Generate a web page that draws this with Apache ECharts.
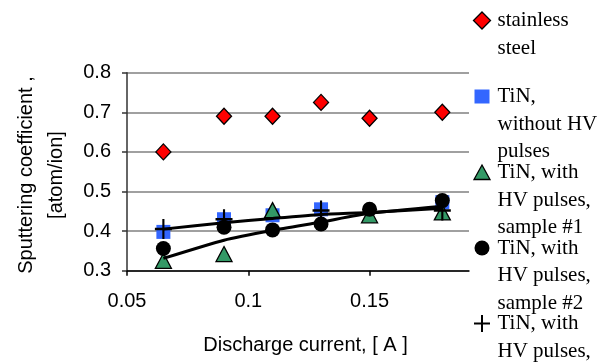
<!DOCTYPE html>
<html>
<head>
<meta charset="utf-8">
<script src="https://cdn.jsdelivr.net/npm/echarts@6/dist/echarts.min.js"></script>
<style>html,body{margin:0;padding:0;background:#fff}#c{width:614px;height:362px}</style>
</head>
<body>
<div id="c"></div>
<script>
// ---- data ----
const steelX = [0.065, 0.09, 0.11, 0.13, 0.15, 0.18];
const steelY = [0.600, 0.690, 0.690, 0.725, 0.685, 0.700];
const noHvX = [0.065, 0.09, 0.11, 0.13, 0.18];
const noHvY = [0.398, 0.430, 0.440, 0.455, 0.473];
const s1X = [0.065, 0.09, 0.11, 0.15, 0.18];
const s1Y = [0.325, 0.342, 0.453, 0.440, 0.447];
const s2X = [0.065, 0.09, 0.11, 0.13, 0.15, 0.18];
const s2Y = [0.356, 0.410, 0.403, 0.418, 0.455, 0.477];
const s3X = [0.065, 0.09, 0.13, 0.18];
const s3Y = [0.405, 0.430, 0.452, 0.452];
const trendX = [0.065, 0.09, 0.11, 0.13, 0.15, 0.18];
const trendUpperY = [0.405, 0.421, 0.432, 0.442, 0.447, 0.458];
const trendLowerY = [0.331, 0.377, 0.402, 0.423, 0.445, 0.463];
const legendNames = ['stainless\nsteel', 'TiN,\nwithout HV\npulses', 'TiN, with\nHV pulses,\nsample #1', 'TiN, with\nHV pulses,\nsample #2', 'TiN, with\nHV pulses,\nsample #3'];
const xTicks = {min: 0.05, max: 0.191, interval: 0.05};
const yTicks = {min: 0.3, max: 0.8, interval: 0.1};

const pair = (xs, ys) => xs.map((x, i) => [x, ys[i]]);
const plusPath = 'path://M7,0h2v7h7v2h-7v7h-2v-7h-7v-2h7z';

const chart = echarts.init(document.getElementById('c'), null, {renderer: 'canvas'});

const legendTop = [20.5, 96.5, 172.5, 248, 323.5];
const mx = 482, tx = 497.5, lh = 27.5;
const legendGraphics = [];
legendGraphics.push({type: 'polygon', shape: {points: [[mx, legendTop[0]-8.5],[mx+8.5, legendTop[0]],[mx, legendTop[0]+8.5],[mx-8.5, legendTop[0]]]}, style: {fill: '#ff0000', stroke: '#000', lineWidth: 1.3}});
legendGraphics.push({type: 'rect', shape: {x: mx-7.5, y: legendTop[1]-7, width: 15, height: 14}, style: {fill: '#3366ff'}});
legendGraphics.push({type: 'polygon', shape: {points: [[mx, legendTop[2]-7.5],[mx+8, legendTop[2]+7],[mx-8, legendTop[2]+7]]}, style: {fill: '#339966', stroke: '#000', lineWidth: 1.3}});
legendGraphics.push({type: 'circle', shape: {cx: mx, cy: legendTop[3], r: 7.5}, style: {fill: '#000'}});
legendGraphics.push({type: 'line', shape: {x1: mx-8, y1: legendTop[4], x2: mx+8, y2: legendTop[4]}, style: {stroke: '#000', lineWidth: 2}});
legendGraphics.push({type: 'line', shape: {x1: mx, y1: legendTop[4]-8.5, x2: mx, y2: legendTop[4]+8.5}, style: {stroke: '#000', lineWidth: 2}});
legendNames.forEach((t, i) => {
  legendGraphics.push({type: 'text', x: tx, y: legendTop[i] - lh/2, style: {text: t, fill: '#000', font: '21px "Liberation Serif", "Times New Roman", serif', lineHeight: lh, verticalAlign: 'top', align: 'left'}});
});

const option = {
  animation: false,
  backgroundColor: '#fff',
  grid: {left: 127, top: 72.7, right: 145, bottom: 91.3, containLabel: false},
  xAxis: {
    type: 'value', min: xTicks.min, max: xTicks.max, interval: xTicks.interval,
    name: 'Discharge current, [ A ]', nameLocation: 'middle', nameGap: 65,
    nameTextStyle: {fontFamily: '"Liberation Sans", Arial', fontSize: 20, color: '#000', padding: [0, 0, 0, 15]},
    axisLine: {show: true, onZero: false, lineStyle: {color: '#000', width: 1.5}},
    axisTick: {show: true, length: 5, inside: false, lineStyle: {color: '#000', width: 1.5}},
    axisLabel: {showMaxLabel: false, margin: 21, fontFamily: '"Liberation Sans", Arial', fontSize: 20, color: '#000',
      formatter: v => String(+v.toFixed(2))},
    splitLine: {show: false}
  },
  yAxis: {
    type: 'value', min: yTicks.min, max: yTicks.max, interval: yTicks.interval,
    axisLine: {show: true, lineStyle: {color: '#333', width: 1.5}},
    axisTick: {show: true, length: 5, inside: false, lineStyle: {color: '#333', width: 1.5}},
    axisLabel: {margin: 16, fontFamily: '"Liberation Sans", Arial', fontSize: 20, color: '#000',
      formatter: v => v.toFixed(1)},
    splitLine: {show: true, lineStyle: {color: '#808080', width: 1.5}}
  },
  graphic: [
    {type: 'text', x: 41.7, y: 175, rotation: Math.PI/2,
     style: {text: 'Sputtering coefficient ,\n[atom/ion]', fill: '#000', font: '20px "Liberation Sans", Arial', lineHeight: 30, align: 'center', verticalAlign: 'middle'}},
    ...legendGraphics
  ],
  series: [
    {name: 'stainless steel', type: 'scatter', data: pair(steelX, steelY), symbol: 'diamond', symbolSize: [15, 16],
     itemStyle: {color: '#ff0000', borderColor: '#000', borderWidth: 1.3, opacity: 1}, z: 2},
    {name: 'TiN, without HV pulses', type: 'scatter', data: pair(noHvX, noHvY), symbol: 'rect', symbolSize: 14,
     itemStyle: {color: '#3366ff', opacity: 1}, z: 3},
    {name: 'TiN, with HV pulses, sample #1', type: 'scatter', data: pair(s1X, s1Y), symbol: 'triangle', symbolSize: [16, 15],
     itemStyle: {color: '#339966', borderColor: '#000', borderWidth: 1.3, opacity: 1}, z: 4},
    {name: 'TiN, with HV pulses, sample #2', type: 'scatter', data: pair(s2X, s2Y), symbol: 'circle', symbolSize: 15,
     itemStyle: {color: '#000', opacity: 1}, z: 5},
    {name: 'TiN, with HV pulses, sample #3', type: 'scatter', data: pair(s3X, s3Y), symbol: plusPath, symbolSize: [17, 20],
     itemStyle: {color: '#000', opacity: 1}, z: 6},
    {name: 'trend upper', type: 'line', data: pair(trendX, trendUpperY), showSymbol: false, smooth: 0.2,
     lineStyle: {color: '#000', width: 3}, z: 7},
    {name: 'trend lower', type: 'line', data: pair(trendX, trendLowerY), showSymbol: false, smooth: 0.2,
     lineStyle: {color: '#000', width: 3}, z: 7}
  ]
};
chart.setOption(option);
</script>
</body>
</html>
